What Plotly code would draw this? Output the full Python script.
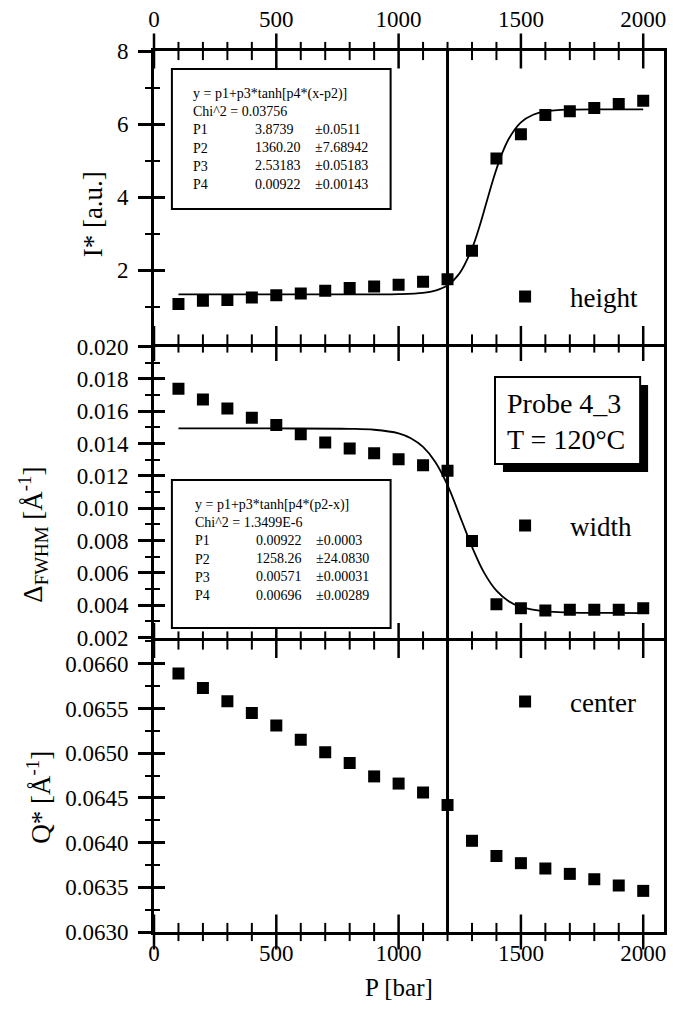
import plotly.graph_objects as go

# ---------------- data ----------------
pressure = [100, 200, 300, 400, 500, 600, 700, 800, 900, 1000,
            1100, 1200, 1300, 1400, 1500, 1600, 1700, 1800, 1900, 2000]
height = [1.08, 1.17, 1.19, 1.26, 1.32, 1.37, 1.44, 1.52, 1.56, 1.61,
          1.69, 1.76, 2.54, 5.06, 5.72, 6.25, 6.35, 6.44, 6.55, 6.64]
width = [0.01738, 0.01672, 0.01617, 0.01559, 0.01514, 0.01457, 0.01406, 0.01369, 0.01340, 0.01303,
         0.01266, 0.01232, 0.00797, 0.00406, 0.00381, 0.00367, 0.00371, 0.00371, 0.00371, 0.00381]
center = [0.06589, 0.06573, 0.06558, 0.06545, 0.06531, 0.06515, 0.06501, 0.06489, 0.06474, 0.06466,
          0.06456, 0.06442, 0.06402, 0.06385, 0.06377, 0.06371, 0.06365, 0.06359, 0.06352, 0.06346]

# fitted curves
fit_h_x = [100, 400, 700, 900, 1000, 1100, 1150, 1200, 1250, 1300, 1330, 1360,
           1390, 1420, 1450, 1500, 1550, 1600, 1700, 1850, 2000]
fit_h_y = [1.342, 1.342, 1.342, 1.343, 1.349, 1.383, 1.445, 1.591, 1.928, 2.597, 3.186, 3.874,
           4.561, 5.144, 5.594, 6.049, 6.257, 6.346, 6.396, 6.404, 6.406]
fit_w_x = [100, 500, 800, 900, 1000, 1050, 1100, 1150, 1200, 1258, 1300, 1350,
           1400, 1450, 1500, 1600, 1700, 1850, 2000]
fit_w_y = [0.01493, 0.01493, 0.01491, 0.01485, 0.01463, 0.01433, 0.01379, 0.01286, 0.01142, 0.00922,
           0.00761, 0.00600, 0.00490, 0.00425, 0.00389, 0.00361, 0.00354, 0.00352, 0.00351]

transition_p = [1200]

fit1_lines = ["y = p1+p3*tanh[p4*(x-p2)]", "Chi^2 = 0.03756", "P1", "P2", "P3", "P4"]
fit1_vals = ["3.8739", "1360.20", "2.53183", "0.00922"]
fit1_errs = ["±0.0511", "±7.68942", "±0.05183", "±0.00143"]
fit2_lines = ["y = p1+p3*tanh[p4*(p2-x)]", "Chi^2 = 1.3499E-6", "P1", "P2", "P3", "P4"]
fit2_vals = ["0.00922", "1258.26", "0.00571", "0.00696"]
fit2_errs = ["±0.0003", "±24.0830", "±0.00031", "±0.00289"]

# tick positions
x_major = [0, 500, 1000, 1500, 2000]
x_minor = [100, 200, 300, 400, 600, 700, 800, 900, 1100, 1200, 1300, 1400,
           1600, 1700, 1800, 1900]
y1_major = [2, 4, 6, 8]
y1_minor = [1, 3, 5, 7]
y1_range = [0, 8]
y2_range = [0.002, 0.020]
y3_range = [0.0630, 0.06626]

# ---------------- layout helpers ----------------
FW, FH = 673, 1014
L, R, T, B = 154, 6, 51, 82
W, H = FW - L - R, FH - T - B
FONT = "Liberation Serif, Times New Roman, serif"
LW = 3


def pxx(x):
    return (x - L) / W


def pxy(y):
    return 1 - (y - T) / H


def dom(top_px, bot_px):
    return [pxy(bot_px), pxy(top_px)]


fig = go.Figure()

mk = dict(symbol="square", size=12, color="black")
fig.add_trace(go.Scatter(x=pressure, y=height, mode="markers", marker=mk, name="height",
                         xaxis="x", yaxis="y", legend="legend"))
fig.add_trace(go.Scatter(x=fit_h_x, y=fit_h_y, mode="lines", line=dict(color="black", width=1.8, shape="spline"),
                         showlegend=False, xaxis="x", yaxis="y"))
fig.add_trace(go.Scatter(x=pressure, y=width, mode="markers", marker=mk, name="width",
                         xaxis="x2", yaxis="y2", legend="legend2"))
fig.add_trace(go.Scatter(x=fit_w_x, y=fit_w_y, mode="lines", line=dict(color="black", width=1.8, shape="spline"),
                         showlegend=False, xaxis="x2", yaxis="y2"))
fig.add_trace(go.Scatter(x=pressure, y=center, mode="markers", marker=mk, name="center",
                         xaxis="x3", yaxis="y3", legend="legend3"))

# crossing x ticks on every horizontal frame line (drawn as tick-mark symbols)
edges = [("x", "y", y1_range[1]), ("x", "y", y1_range[0]),
         ("x3", "y3", y3_range[1]), ("x3", "y3", y3_range[0])]
for xa, ya, yedge in edges:
    for vals, size, lw in [(x_major, 25, 2.5), (x_minor, 13, 2)]:
        fig.add_trace(go.Scatter(x=vals, y=[yedge] * len(vals), xaxis=xa, yaxis=ya, mode="markers",
                                 marker=dict(symbol="line-ns", size=size, color="black",
                                             line=dict(color="black", width=lw)),
                                 cliponaxis=False, showlegend=False, hoverinfo="skip"))

XR = [0, 2085]
tickfont = dict(family=FONT, size=23, color="black")

base_x = dict(range=XR, showgrid=False, zeroline=False, showline=True, linecolor="black", linewidth=LW,
              ticks="", tickmode="array", tickvals=x_major, mirror=True, tickfont=tickfont)

base_y = dict(showgrid=False, zeroline=False, showline=True, linecolor="black", linewidth=LW,
              ticks="outside", ticklen=13, tickwidth=2.5, tickcolor="black", mirror=True,
              tickfont=tickfont, ticklabelstandoff=5)
over_y = dict(showgrid=False, zeroline=False, showline=False,
              ticks="inside", ticklen=11, tickwidth=2.5, tickcolor="black", showticklabels=False)


def y1(side):
    return dict(range=y1_range, tickmode="array", tickvals=y1_major,
                minor=dict(tickmode="array", tickvals=y1_minor, ticks=side, ticklen=6, tickwidth=2,
                           tickcolor="black"))


def y2(side):
    return dict(range=y2_range, tickmode="linear", tick0=0.002, dtick=0.002, tickformat=".3f",
                minor=dict(tickmode="linear", tick0=0.002, dtick=0.001, ticks=side, ticklen=6, tickwidth=2,
                           tickcolor="black"))


def y3(side):
    return dict(range=y3_range, tickmode="linear", tick0=0.0630, dtick=0.0005, tickformat=".4f",
                minor=dict(tickmode="linear", tick0=0.0630, dtick=0.00025, ticks=side, ticklen=6, tickwidth=2,
                           tickcolor="black"))


# panel pixel boxes (gaps of LW so mirrored lines coincide)
P1 = (51, 343.5)
P2 = (346.5, 637.5)
P3 = (640.5, 932)

layout_axes = dict(
    xaxis={**base_x, **dict(side="top", anchor="y", showticklabels=True, ticklabelstandoff=12)},
    xaxis2={**base_x, **dict(anchor="y2", showticklabels=False)},
    xaxis3={**base_x, **dict(anchor="y3", side="bottom", showticklabels=True, ticklabelstandoff=-2)},
    yaxis={**base_y, **y1("outside"), **dict(domain=dom(*P1), anchor="x")},
    yaxis2={**base_y, **y2("outside"), **dict(domain=dom(*P2), anchor="x2")},
    yaxis3={**base_y, **y3("outside"), **dict(domain=dom(*P3), anchor="x3")},
    yaxis4={**over_y, **y1("inside"), **dict(overlaying="y", anchor="x")},
    yaxis5={**over_y, **y2("inside"), **dict(overlaying="y2", anchor="x2")},
    yaxis6={**over_y, **y3("inside"), **dict(overlaying="y3", anchor="x3")},
)
# empty traces so that overlay axes get drawn
for xa, ya in [("x", "y4"), ("x2", "y5"), ("x3", "y6")]:
    fig.add_trace(go.Scatter(x=[None], y=[None], xaxis=xa, yaxis=ya, showlegend=False, hoverinfo="skip"))

fig.update_layout(
    width=FW, height=FH,
    margin=dict(l=L, r=R, t=T, b=B, pad=0),
    paper_bgcolor="white", plot_bgcolor="white",
    font=dict(family=FONT, color="black"),
    showlegend=True,
    **layout_axes,
)

legfont = dict(family=FONT, size=27, color="black")
for name, yy in [("legend", 297), ("legend2", 526), ("legend3", 702)]:
    fig.update_layout({name: dict(x=pxx(482), y=pxy(yy), xanchor="left", yanchor="middle",
                                  bgcolor="rgba(0,0,0,0)", borderwidth=0, font=legfont,
                                  itemwidth=80, itemclick=False)})

# vertical transition line across all panels
for p in transition_p:
    fig.add_shape(type="line", xref="x", yref="paper", x0=p, x1=p, y0=pxy(933), y1=pxy(50),
                  line=dict(color="black", width=3), layer="above")

# fit parameter boxes
BF = 14
boxfont = dict(family=FONT, size=BF, color="black")
LINE_H = BF * 1.3


def fit_box(x0, y0, x1, y1_, cx, ycenter, lines, vals, errs):
    fig.add_shape(type="rect", xref="paper", yref="paper", x0=pxx(x0), x1=pxx(x1), y0=pxy(y0), y1=pxy(y1_),
                  line=dict(color="black", width=2), fillcolor="white", layer="above")
    fig.add_annotation(xref="paper", yref="paper", x=pxx(cx[0]), y=pxy(ycenter), xanchor="left",
                       yanchor="middle", text="<br>".join(lines), showarrow=False, align="left", font=boxfont)
    for xcol, col in zip(cx[1:], [vals, errs]):
        fig.add_annotation(xref="paper", yref="paper", x=pxx(xcol), y=pxy(ycenter + LINE_H), xanchor="left",
                           yanchor="middle", text="<br>".join(col), showarrow=False, align="left",
                           font=boxfont)


fit_box(172, 69, 392, 209, [191, 254, 314], 139, fit1_lines, fit1_vals, fit1_errs)
fit_box(172, 480, 392, 628, [193, 255, 315], 550, fit2_lines, fit2_vals, fit2_errs)

# Probe label box with shadow
fig.add_shape(type="rect", xref="paper", yref="paper", x0=pxx(505), x1=pxx(651), y0=pxy(472), y1=pxy(385),
              line=dict(color="black", width=0), fillcolor="black", layer="above")
fig.add_shape(type="rect", xref="paper", yref="paper", x0=pxx(497), x1=pxx(643), y0=pxy(464), y1=pxy(377),
              line=dict(color="black", width=2), fillcolor="white", layer="above")
fig.add_annotation(xref="paper", yref="paper", x=pxx(507), y=pxy(421), xanchor="left", yanchor="middle",
                   text="Probe 4_3<br>T = 120°C", showarrow=False, align="left",
                   font=dict(family=FONT, size=28, color="black"))

# axis titles
tf = dict(family=FONT, size=27, color="black")
fig.add_annotation(xref="paper", yref="paper", x=pxx(93), y=pxy(214), text="I* [a.u.]", textangle=-90,
                   showarrow=False, font=tf, xanchor="center", yanchor="middle")
fig.add_annotation(xref="paper", yref="paper", x=pxx(32), y=pxy(535),
                   text="Δ<sub>FWHM</sub> [Å<sup>-1</sup>]", textangle=-90,
                   showarrow=False, font=tf, xanchor="center", yanchor="middle")
fig.add_annotation(xref="paper", yref="paper", x=pxx(38), y=pxy(797),
                   text="Q* [Å<sup>-1</sup>]", textangle=-90,
                   showarrow=False, font=tf, xanchor="center", yanchor="middle")
fig.add_annotation(xref="paper", yref="paper", x=pxx(400), y=pxy(987), text="P [bar]",
                   showarrow=False, font=dict(family=FONT, size=25, color="black"),
                   xanchor="center", yanchor="middle")

fig.write_html("out.html", config={"displayModeBar": False},
               post_script="document.body.style.margin='0px';")
